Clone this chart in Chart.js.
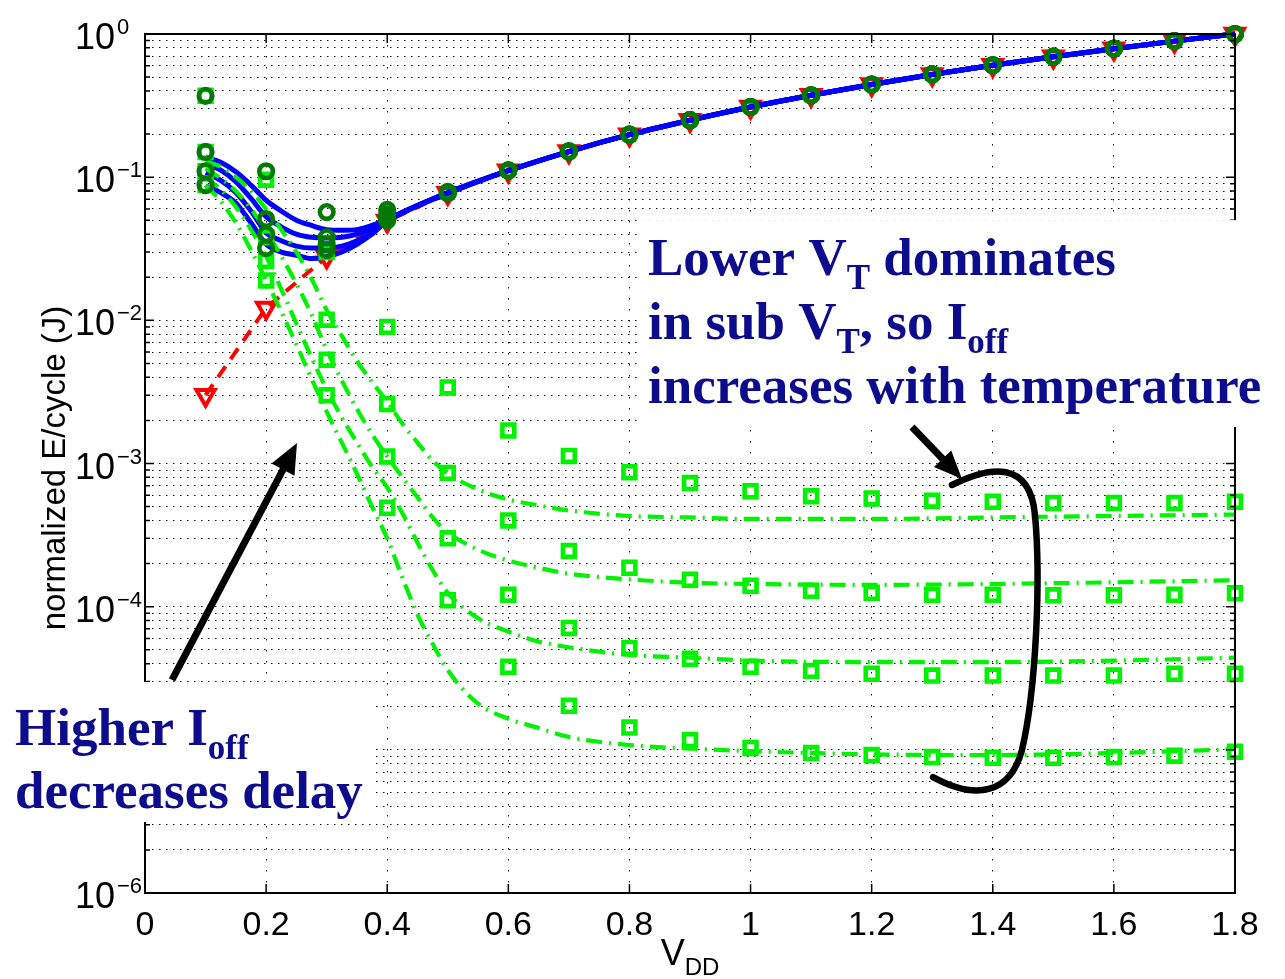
<!DOCTYPE html>
<html>
<head>
<meta charset="utf-8">
<script src="https://cdn.jsdelivr.net/npm/chart.js@4.4.1/dist/chart.umd.min.js"></script>
<style>
    html, body { margin: 0; padding: 0; background: #fff; }
    #wrap { width: 1285px; height: 979px; }
</style>
</head>
<body>
<div id="wrap"><canvas id="energyChart" width="1285" height="979"></canvas></div>
<script>
// supply voltage steps where the simulated points sit
const vdd = [0.1, 0.2, 0.3, 0.4, 0.5, 0.6, 0.7, 0.8, 0.9, 1.0, 1.1, 1.2, 1.3, 1.4, 1.5, 1.6, 1.7, 1.8];
const xTicks = [0, 0.2, 0.4, 0.6, 0.8, 1.0, 1.2, 1.4, 1.6, 1.8];
const xTickLabels = ['0', '0.2', '0.4', '0.6', '0.8', '1', '1.2', '1.4', '1.6', '1.8'];
const yExponents = [-6, -5, -4, -3, -2, -1, 0];
const yMantissas = [1, 2, 3, 4, 5, 6, 7, 8, 9];

// nominal dynamic energy (red dashed, triangles)
const eNominal = [0.0030, 0.0122, 0.0278, 0.0494, 0.0772, 0.111, 0.151, 0.198, 0.250, 0.309, 0.373, 0.444, 0.522, 0.605, 0.694, 0.790, 0.892, 1.0];

// total energy, simulated (dark green circles), one row per temperature
const circT1 = [0.370, 0.110, 0.057, 0.059, 0.079, 0.112, 0.152, 0.199, 0.251, 0.310, 0.374, 0.445, 0.523, 0.606, 0.695, 0.791, 0.893, 1.0];
const circT2 = [0.150, 0.051, 0.038, 0.055, 0.078, 0.111, 0.151, 0.198, 0.250, 0.309, 0.373, 0.444, 0.522, 0.605, 0.694, 0.790, 0.892, 1.0];
const circT3 = [0.110, 0.040, 0.034, 0.052, 0.078, 0.111, 0.151, 0.198, 0.250, 0.309, 0.373, 0.444, 0.522, 0.605, 0.694, 0.790, 0.892, 1.0];
const circT4 = [0.088, 0.032, 0.031, 0.050, 0.077, 0.111, 0.151, 0.198, 0.250, 0.309, 0.373, 0.444, 0.522, 0.605, 0.694, 0.790, 0.892, 1.0];

// leakage energy, simulated (light green squares)
const sqT1 = [0.370, 0.096, 0.030, 0.0090, 0.0034, 0.00170, 0.00113, 0.00087, 0.00073, 0.00064, 0.00059, 0.00057, 0.00055, 0.00054, 0.00053, 0.00053, 0.00053, 0.00054];
const sqT2 = [0.150, 0.038, 0.0101, 0.0026, 0.00086, 0.00040, 0.000245, 0.000187, 0.000154, 0.000140, 0.000129, 0.000125, 0.000121, 0.000121, 0.000120, 0.000120, 0.000121, 0.000124];
const sqT3 = [0.110, 0.026, 0.0053, 0.00112, 0.00030, 0.000121, 0.000071, 0.0000515, 0.0000432, 0.000038, 0.0000356, 0.000034, 0.000033, 0.000033, 0.000033, 0.000033, 0.000034, 0.000034];
const sqT4 = [0.088, 0.019, 0.0030, 0.00049, 0.000111, 0.000038, 0.0000203, 0.0000143, 0.0000117, 0.0000103, 0.0000095, 0.0000092, 0.0000089, 0.0000088, 0.0000088, 0.0000089, 0.0000091, 0.0000097];

// total energy, model (blue solid)
const blueX = [0.1, 0.125, 0.15, 0.175, 0.2, 0.225, 0.25, 0.275, 0.3, 0.325, 0.35, 0.375, 0.4, 0.5, 0.6, 0.7, 0.8, 0.9, 1.0, 1.1, 1.2, 1.3, 1.4, 1.5, 1.6, 1.7, 1.8];
const blueT1 = [0.138, 0.127, 0.109, 0.088, 0.069, 0.058, 0.050, 0.046, 0.043, 0.0425, 0.043, 0.046, 0.051, 0.078, 0.111, 0.151, 0.198, 0.250, 0.309, 0.373, 0.444, 0.522, 0.605, 0.694, 0.790, 0.892, 1.0];
const blueT2 = [0.124, 0.112, 0.093, 0.071, 0.053, 0.045, 0.040, 0.038, 0.0376, 0.038, 0.040, 0.044, 0.050, 0.078, 0.111, 0.151, 0.198, 0.250, 0.309, 0.373, 0.444, 0.522, 0.605, 0.694, 0.790, 0.892, 1.0];
const blueT3 = [0.107, 0.095, 0.078, 0.058, 0.041, 0.036, 0.033, 0.032, 0.032, 0.033, 0.036, 0.041, 0.0497, 0.077, 0.111, 0.151, 0.198, 0.250, 0.309, 0.373, 0.444, 0.522, 0.605, 0.694, 0.790, 0.892, 1.0];
const blueT4 = [0.087, 0.078, 0.066, 0.048, 0.034, 0.030, 0.0285, 0.027, 0.0278, 0.030, 0.034, 0.040, 0.0494, 0.077, 0.111, 0.151, 0.198, 0.250, 0.309, 0.373, 0.444, 0.522, 0.605, 0.694, 0.790, 0.892, 1.0];

// leakage energy, model (green dash-dot)
const greenX = [0.1, 0.125, 0.15, 0.175, 0.2, 0.225, 0.25, 0.275, 0.3, 0.325, 0.35, 0.375, 0.4, 0.425, 0.45, 0.475, 0.5, 0.55, 0.6, 0.65, 0.7, 0.8, 0.9, 1.0, 1.2, 1.4, 1.6, 1.8];
const greenT1 = [0.130, 0.118, 0.100, 0.080, 0.060, 0.043, 0.030, 0.0195, 0.0118, 0.0078, 0.0052, 0.0037, 0.0027, 0.0019, 0.0014, 0.00105, 0.00085, 0.00066, 0.00056, 0.00051, 0.00047, 0.00043, 0.00042, 0.00041, 0.00041, 0.00042, 0.00043, 0.00044];
const greenT2 = [0.115, 0.098, 0.080, 0.060, 0.042, 0.028, 0.018, 0.011, 0.0062, 0.0038, 0.0024, 0.0016, 0.00112, 0.00080, 0.00058, 0.00042, 0.00033, 0.00025, 0.00021, 0.000187, 0.000170, 0.000155, 0.000147, 0.000144, 0.000142, 0.000144, 0.000148, 0.000153];
const greenT3 = [0.100, 0.082, 0.062, 0.043, 0.028, 0.0165, 0.0095, 0.0055, 0.0033, 0.0021, 0.0014, 0.00095, 0.00068, 0.00045, 0.00028, 0.00018, 0.000125, 0.000083, 0.000067, 0.000057, 0.000052, 0.000046, 0.000044, 0.000042, 0.000041, 0.000041, 0.000042, 0.000044];
const greenT4 = [0.088, 0.068, 0.048, 0.031, 0.019, 0.0115, 0.0068, 0.0039, 0.0023, 0.0014, 0.00085, 0.00050, 0.00030, 0.00016, 0.000088, 0.000055, 0.000036, 0.000021, 0.0000165, 0.0000142, 0.0000123, 0.0000108, 0.0000102, 0.0000098, 0.0000093, 0.0000092, 0.0000095, 0.0000101];

const yGrid = [];
yExponents.forEach(e => {
    yMantissas.forEach(m => {
        if (e === 0 && m > 1) return;
        yGrid.push({ value: m * Math.pow(10, e), major: m === 1, exp: e });
    });
});

const NAVY = '#0c0c8c';
const SANS = '"Liberation Sans", Arial, sans-serif';
const SERIF = '"Liberation Serif", "Times New Roman", serif';

function pairs(xs, ys) {
    return xs.map((x, i) => ({ x: x, y: ys[i] }));
}

function markerSet(ys, style) {
    return Object.assign({
        data: pairs(vdd, ys),
        showLine: false,
        backgroundColor: 'rgba(0,0,0,0)',
        pointBackgroundColor: 'rgba(0,0,0,0)',
        clip: false
    }, style);
}

function curveSet(xs, ys, style) {
    return Object.assign({
        data: pairs(xs, ys),
        pointRadius: 0,
        fill: false,
        cubicInterpolationMode: 'monotone',
        clip: false
    }, style);
}

const circleStyle = { pointStyle: 'circle', pointRadius: 6.8, pointBorderWidth: 4.6, pointBorderColor: '#007a00', borderColor: '#007a00' };
const squareStyle = { pointStyle: 'rect', pointRadius: 8.4, pointBorderWidth: 4.6, pointBorderColor: '#00f200', borderColor: '#00f200' };
const greenStyle = { borderColor: '#00f200', borderWidth: 4.2, borderDash: [16, 7, 2, 7] };
const blueStyle = { borderColor: '#0000ff', borderWidth: 5 };

// first dataset is painted last, so it ends up on top
const datasets = [
    markerSet(circT1, circleStyle),
    markerSet(circT2, circleStyle),
    markerSet(circT3, circleStyle),
    markerSet(circT4, circleStyle),
    markerSet(sqT1, squareStyle),
    markerSet(sqT2, squareStyle),
    markerSet(sqT3, squareStyle),
    markerSet(sqT4, squareStyle),
    curveSet(greenX, greenT1, greenStyle),
    curveSet(greenX, greenT2, greenStyle),
    curveSet(greenX, greenT3, greenStyle),
    curveSet(greenX, greenT4, greenStyle),
    curveSet(blueX, blueT1, blueStyle),
    curveSet(blueX, blueT2, blueStyle),
    curveSet(blueX, blueT3, blueStyle),
    curveSet(blueX, blueT4, blueStyle),
    {
        data: pairs(vdd, eNominal),
        borderColor: '#ff0000',
        borderWidth: 4,
        borderDash: [13, 9],
        fill: false,
        tension: 0,
        pointStyle: 'triangle',
        pointRotation: 180,
        pointRadius: 10.5,
        pointBorderWidth: 4,
        pointBorderColor: '#ff0000',
        pointBackgroundColor: 'rgba(0,0,0,0)',
        clip: false
    }
];

// text with sub/superscript runs, left aligned on a baseline
function drawRuns(ctx, x, y, runs, size, family, weight) {
    let cx = x;
    runs.forEach(r => {
        const s = r.sub || r.sup ? Math.round(size * 0.66) : size;
        ctx.font = weight + ' ' + s + 'px ' + family;
        const dy = r.sub ? size * 0.27 : (r.sup ? -size * 0.42 : 0);
        ctx.fillText(r.t, cx, y + dy);
        cx += ctx.measureText(r.t).width;
    });
    return cx - x;
}

function measureRuns(ctx, runs, size, family, weight) {
    let w = 0;
    runs.forEach(r => {
        const s = r.sub || r.sup ? Math.round(size * 0.66) : size;
        ctx.font = weight + ' ' + s + 'px ' + family;
        w += ctx.measureText(r.t).width;
    });
    return w;
}

function arrow(ctx, p0, p1, head, half) {
    const ang = Math.atan2(p1[1] - p0[1], p1[0] - p0[0]);
    const bx = p1[0] - Math.cos(ang) * head;
    const by = p1[1] - Math.sin(ang) * head;
    ctx.beginPath();
    ctx.moveTo(p0[0], p0[1]);
    ctx.lineTo(bx + Math.cos(ang) * 2, by + Math.sin(ang) * 2);
    ctx.stroke();
    ctx.beginPath();
    ctx.moveTo(p1[0], p1[1]);
    ctx.lineTo(bx + Math.sin(ang) * half, by - Math.cos(ang) * half);
    ctx.lineTo(bx - Math.sin(ang) * half, by + Math.cos(ang) * half);
    ctx.closePath();
    ctx.fill();
}

const frame = {
    id: 'frame',
    afterDraw(chart) {
        const ctx = chart.ctx;
        const a = chart.chartArea;
        const xs = chart.scales.x;
        const ys = chart.scales.y;
        // annotation positions are given as (VDD, log10 E)
        const P = (xv, ly) => [xs.getPixelForValue(xv), ys.getPixelForValue(Math.pow(10, ly))];

        ctx.save();
        ctx.strokeStyle = '#000';
        ctx.fillStyle = '#000';

        // inward ticks on all four sides
        ctx.lineWidth = 1.5;
        ctx.beginPath();
        xTicks.forEach(v => {
            const px = xs.getPixelForValue(v);
            ctx.moveTo(px, a.bottom); ctx.lineTo(px, a.bottom - 9);
            ctx.moveTo(px, a.top); ctx.lineTo(px, a.top + 9);
        });
        yGrid.forEach(t => {
            const py = ys.getPixelForValue(t.value);
            const len = t.major ? 9 : 5;
            ctx.moveTo(a.left, py); ctx.lineTo(a.left + len, py);
            ctx.moveTo(a.right, py); ctx.lineTo(a.right - len, py);
        });
        ctx.stroke();

        ctx.lineWidth = 2;
        ctx.strokeRect(a.left, a.top, a.right - a.left, a.bottom - a.top);

        // x tick labels
        ctx.font = '34px ' + SANS;
        ctx.textAlign = 'center';
        ctx.textBaseline = 'alphabetic';
        xTicks.forEach((v, i) => {
            ctx.fillText(xTickLabels[i], xs.getPixelForValue(v), a.bottom + 42);
        });

        // y tick labels 10^n: the "10" keeps a fixed right edge, exponent follows
        ctx.textAlign = 'left';
        yGrid.filter(t => t.major).forEach(t => {
            const py = ys.getPixelForValue(t.value);
            ctx.font = '36px ' + SANS;
            const w10 = ctx.measureText('10').width;
            const x0 = a.left - 30 - w10;
            ctx.fillText('10', x0, py + 15);
            ctx.font = '22px ' + SANS;
            ctx.fillText(t.exp < 0 ? '\u2212' + (-t.exp) : String(t.exp), x0 + w10 + 2, py);
        });

        // axis titles
        const xt = [{ t: 'V' }, { t: 'DD', sub: true }];
        const xw = measureRuns(ctx, xt, 36, SANS, 'normal');
        drawRuns(ctx, (a.left + a.right) / 2 - xw / 2, a.bottom + 72, xt, 36, SANS, 'normal');

        ctx.save();
        ctx.translate(56, 468);
        ctx.rotate(-Math.PI / 2);
        ctx.textAlign = 'center';
        ctx.textBaseline = 'middle';
        ctx.font = '33px ' + SANS;
        ctx.fillText('normalized E/cycle (J)', 0, 0);
        ctx.restore();

        // white panels behind the notes
        ctx.fillStyle = '#fff';
        let p = P(0.8174, -1.300), q = P(1.8825, -2.745);
        ctx.fillRect(p[0], p[1], q[0] - p[0], q[1] - p[1]);
        p = P(-0.2394, -4.526); q = P(0.3749, -5.504);
        ctx.fillRect(p[0], p[1], q[0] - p[0], q[1] - p[1]);

        // notes
        ctx.fillStyle = NAVY;
        ctx.textAlign = 'left';
        ctx.textBaseline = 'alphabetic';
        const n1 = P(0.8306, -1.683);
        drawRuns(ctx, n1[0], n1[1], [{ t: 'Lower V' }, { t: 'T', sub: true }, { t: ' dominates' }], 53, SERIF, 'bold');
        drawRuns(ctx, n1[0], n1[1] + 64, [{ t: 'in sub V' }, { t: 'T', sub: true }, { t: ', so I' }, { t: 'off', sub: true }], 53, SERIF, 'bold');
        drawRuns(ctx, n1[0], n1[1] + 128, [{ t: 'increases with temperature' }], 53, SERIF, 'bold');

        const n2 = P(-0.2147, -4.966);
        drawRuns(ctx, n2[0], n2[1], [{ t: 'Higher I' }, { t: 'off', sub: true }], 53, SERIF, 'bold');
        drawRuns(ctx, n2[0], n2[1] + 63, [{ t: 'decreases delay' }], 53, SERIF, 'bold');

        // arrows and bracket
        ctx.strokeStyle = '#000';
        ctx.fillStyle = '#000';
        ctx.lineWidth = 7;
        ctx.lineCap = 'butt';
        arrow(ctx, P(0.0446, -4.512), P(0.2510, -2.857), 30, 13);
        arrow(ctx, P(1.2666, -2.745), P(1.3492, -3.108), 28, 12);

        ctx.lineWidth = 6.5;
        ctx.lineCap = 'round';
        const b0 = P(1.3326, -3.150);
        const b1 = P(1.3954, -3.017), b2 = P(1.4614, -2.975), b3 = P(1.4697, -3.360);
        const b4 = P(1.4796, -3.814), b5 = P(1.4714, -4.582), b6 = P(1.4482, -5.001);
        const b7 = P(1.4284, -5.315), b8 = P(1.3706, -5.350), b9 = P(1.3013, -5.190);
        ctx.beginPath();
        ctx.moveTo(b0[0], b0[1]);
        ctx.bezierCurveTo(b1[0], b1[1], b2[0], b2[1], b3[0], b3[1]);
        ctx.bezierCurveTo(b4[0], b4[1], b5[0], b5[1], b6[0], b6[1]);
        ctx.bezierCurveTo(b7[0], b7[1], b8[0], b8[1], b9[0], b9[1]);
        ctx.stroke();

        ctx.restore();
    }
};

new Chart(document.getElementById('energyChart'), {
    type: 'line',
    data: { datasets: datasets },
    options: {
        responsive: false,
        devicePixelRatio: 1,
        animation: false,
        events: [],
        layout: { padding: { left: 145, top: 34, right: 50, bottom: 86 } },
        plugins: {
            legend: { display: false },
            tooltip: { enabled: false }
        },
        scales: {
            x: {
                type: 'linear',
                min: 0,
                max: 1.8,
                afterBuildTicks: s => { s.ticks = xTicks.map(v => ({ value: v })); },
                afterFit: s => { s.height = 0; },
                ticks: { display: false },
                grid: { color: '#111', lineWidth: 1, drawTicks: false },
                border: { display: false, dash: [1.5, 9.5] }
            },
            y: {
                type: 'logarithmic',
                min: 1e-6,
                max: 1,
                afterBuildTicks: s => { s.ticks = yGrid.map(t => ({ value: t.value })); },
                afterFit: s => { s.width = 0; },
                ticks: { display: false },
                grid: { color: '#111', lineWidth: 1, drawTicks: false },
                border: { display: false, dash: [1.5, 5.5] }
            }
        }
    },
    plugins: [frame]
});
</script>
</body>
</html>
